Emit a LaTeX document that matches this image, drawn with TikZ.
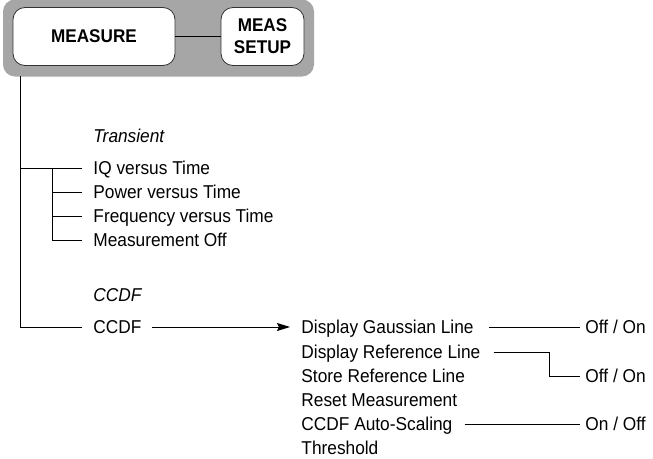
\documentclass[tikz,border=0pt]{standalone}
\usepackage{fontspec}
\setmainfont{Liberation Sans}[FakeStretch=0.93]
\usetikzlibrary{arrows.meta, positioning}

\begin{document}
\begin{tikzpicture}[x=1pt, y=-1pt, line width=0.9pt, >={Stealth[length=13pt,width=8pt,inset=2pt]}]
\tikzstyle{item}=[anchor=west, inner sep=0pt, text height=13.3pt, text depth=0pt, font=\fontsize{18.6}{22}\selectfont]
\tikzstyle{key}=[draw=black!80, line width=0.8pt, fill=white, rounded corners=12pt, minimum height=58pt, inner sep=0pt, align=center, font=\fontsize{18.4}{22}\selectfont\bfseries]

\useasboundingbox (0,0) rectangle (653,458);

% front panel keys
\node[fill=black!35, rounded corners=12pt, minimum width=311pt, minimum height=77pt, inner sep=0pt] (panel) at (158.5,38) {};
\node[key, minimum width=162pt] (measure) at (94,36.5) {MEASURE};
\node[key, minimum width=83pt] (setup) at (262.5,36.5) {MEAS\\SETUP};
\draw[line width=1.6pt] (measure) -- (setup);

% transient menu
\node[item] (transient) at (93,136) {\itshape Transient};
\node[item] (iq) at (93,168) {IQ versus Time};
\node[item] (pwr) at (93,192) {Power versus Time};
\node[item] (freq) at (93,216) {Frequency versus Time};
\node[item] (moff) at (93,240) {Measurement Off};

% ccdf menu
\node[item] (ccdflabel) at (93,295) {\itshape CCDF};
\node[item] (ccdf) at (93,327) {CCDF};

\node[item] (gauss) at (301,327) {Display Gaussian Line};
\node[item] (dref) at (301,352) {Display Reference Line};
\node[item] (sref) at (301,376) {Store Reference Line};
\node[item] (reset) at (301,400) {Reset Measurement};
\node[item] (auto) at (301,424) {CCDF Auto-Scaling};
\node[item] (thresh) at (301,448) {Threshold};

\node[item] (off1) at (585,327) {Off / On};
\node[item] (off2) at (585,376) {Off / On};
\node[item] (on3) at (585,424) {On / Off};

\coordinate (trunk) at (20,76);
\coordinate (split) at (52,168);
\coordinate (bend) at (549,352);

\draw (trunk) |- ([xshift=-11pt]ccdf.west);
\draw (trunk |- iq.west) -- ([xshift=-11pt]iq.west);
\draw (split) |- ([xshift=-11pt]pwr.west);
\draw (split) |- ([xshift=-11pt]freq.west);
\draw (split) |- ([xshift=-11pt]moff.west);

\draw[->] ([xshift=10pt]ccdf.east) -- ([xshift=-11pt]gauss.west);
\draw ([xshift=15pt]gauss.east) -- ([xshift=-5pt]off1.west);
\draw ([xshift=13pt]dref.east) -- (bend) |- ([xshift=-5pt]off2.west);
\draw ([xshift=12pt]auto.east) -- ([xshift=-5pt]on3.west);
\end{tikzpicture}
\end{document}
